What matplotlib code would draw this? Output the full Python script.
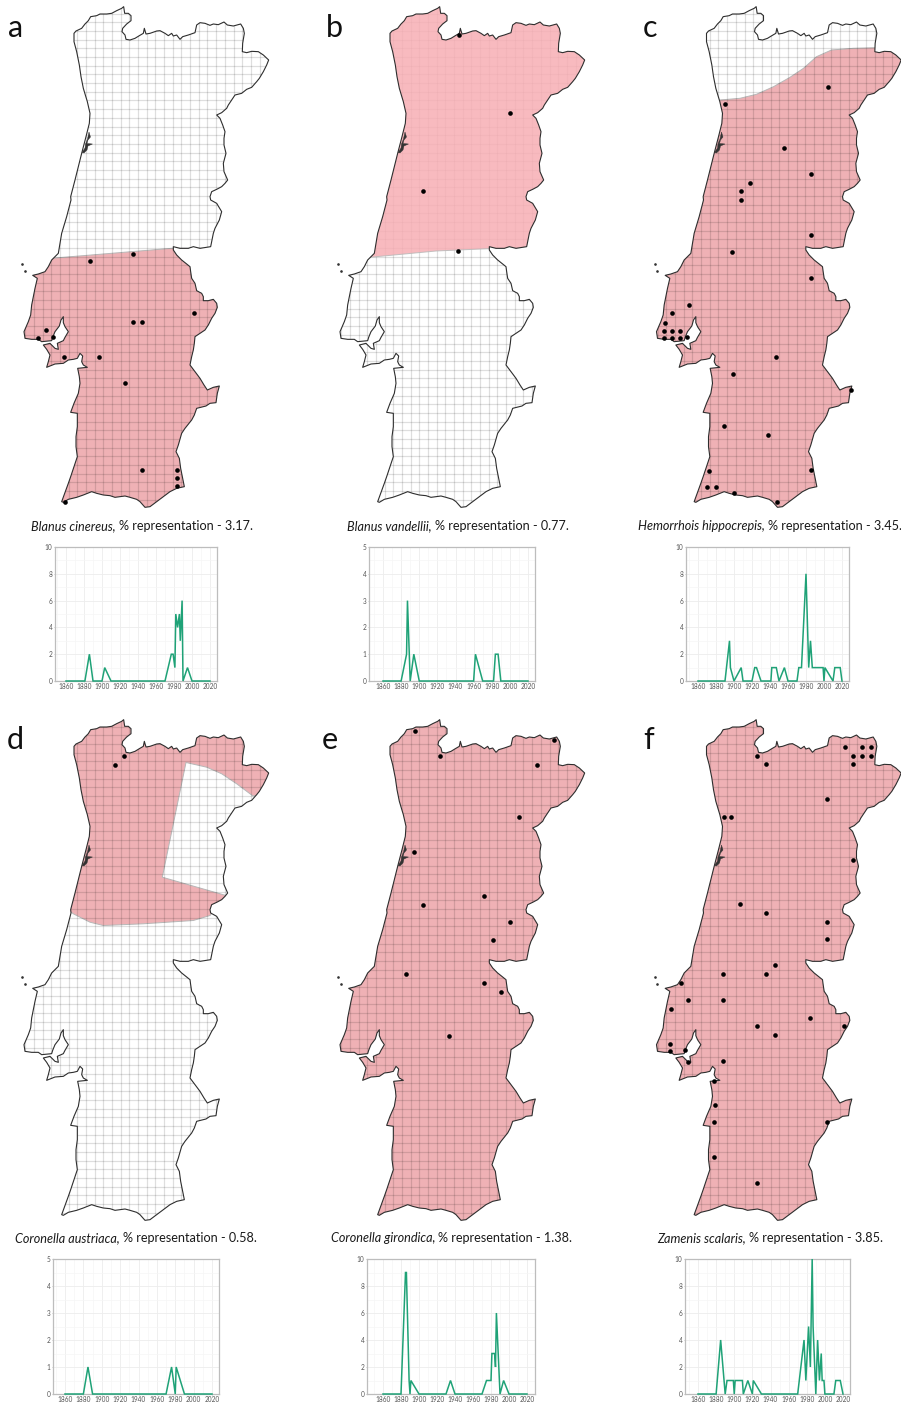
import numpy as np
import matplotlib
matplotlib.use("Agg")
import matplotlib.pyplot as plt
from matplotlib.patches import Polygon
from matplotlib.collections import LineCollection

W, H = 901, 1402

# country outline traced in three stretches, at 3x map scale (1 map unit is 1 px of the reference)
outline_north = [(222,100),(228,93),(245,85),(255,72),(265,62),(272,50),(290,47),(300,42),(320,42),(335,40),(350,32),(365,25),
                 (371,20),(374,40),(385,40),(393,47),(393,62),(380,72),(368,85),(366,95),(375,105),(378,118),(390,120),(405,115),
                 (418,107),(430,100),(433,85),(438,102),(450,100),(470,93),(480,92),(495,100),(505,107),(515,100),(520,108),
                 (530,105),(540,118),(548,110),(565,105),(585,98),(590,75),(600,68),(615,70),(630,76),(640,72),(655,74),(672,66),
                 (682,75),(700,78),(722,72),(730,85),(733,100),(728,130),(727,155),(740,158),(755,154),(775,155),(790,165),
                 (806,180),(800,195),(790,215),(778,235),(770,245),(755,262),(740,268),(725,280),(705,285),(695,300),(685,315),
                 (680,325),(665,338),(650,345),(660,355),(668,375),(675,395),(672,415),(672,435),(678,460),(670,490),(672,515),
                 (683,540),(675,550),(665,560),(650,568),(635,575),(630,590),(632,600),(650,610),(665,635),(658,660),(645,685),
                 (640,700),(635,725),(632,740),(600,745),(580,740),(565,745),(540,745),(520,740)]
outline_south = [(520,0),(530,15),(545,30),(560,42),(570,50),(572,65),(575,85),(585,100),(590,122),(605,130),(610,140),(610,152),
                 (625,152),(640,148),(650,160),(652,172),(645,190),(635,205),(625,225),(615,240),(600,250),(585,260),(583,280),
                 (580,300),(575,320),(570,345),(585,365),(600,385),(612,405),(622,420),(640,412),(658,408),(652,430),(648,458),
                 (630,460),(618,468),(590,475),(583,495),(575,510),(555,535),(545,550),(535,585),(528,605),(538,625),(542,655),
                 (548,685),(553,710),(530,715),(510,725),(490,740),(470,755),(450,770),(435,772),(420,755),(410,748),(390,742),
                 (375,738),(345,742),(330,737),(310,735),(290,730),(275,725),(250,735),(230,742),(205,748),(190,757),(185,755),
                 (205,700),(212,680),(222,650),(232,620),(228,590),(228,560),(232,530),(232,490),(212,487),(222,460),(235,430),
                 (240,400),(238,380),(233,355),(262,352),(250,345),(245,335),(248,318),(240,310),(232,325),(220,328),(205,330),
                 (190,340),(165,342),(140,352),(145,335),(150,315),(140,298),(130,285),(150,280),(165,295),(175,298),(172,280),
                 (190,272),(195,262),(205,245),(195,230),(190,218),(190,200),(183,210),(178,228),(165,245),(158,262),(155,272),
                 (125,275),(115,268),(95,268),(75,265),(72,245),(85,215),(92,195),(95,165),(100,140),(105,115),(112,85),(98,76),
                 (115,72),(135,65),(145,50),(155,30),(165,20),(175,10)]
outline_west = [(185,700),(200,650),(213,600),(212,590),(225,540),(245,460),(258,410),(268,370),(270,340),(262,305),(250,265),
                (243,230),(238,195),(230,155),(222,125)]
lagoon = [(89,132),(90.5,137),(88,140),(87,143.5),(92.5,144),(88,146),(87,150),(84,153),(82,152.5),(85,148),(85.5,144),(87.5,139)]
islands_x = [22.3, 24.7]
islands_y = [264.3, 270.7]

outline = np.vstack([np.array(outline_north) / 3,
                     np.array(outline_south) / 3 + [0, 250],
                     np.array(outline_west) / 3])

# modelled range of each species
range_a = [(0,259),(55,258),(172,248.3),(300,248.3),(300,515),(0,515)]
range_b = [(0,0),(300,0),(300,248),(176,248.5),(120,251),(57,257),(0,257)]
range_c = [(0,100),(87.5,100),(107.5,98.3),(124,94.3),(141,86.7),(157.5,77.3),(171,68.3),(184,56.7),(199,50),(221,48.3),
           (242.5,47.7),(300,47.7),(300,515),(0,515)]
range_d = [(0,0),(300,0),(300,82.8),(252.7,82.8),(236.7,70.8),(221.7,60.8),(206.7,54.2),(186,49.5),(162.3,164.2),(226,182.5),
           (210,202.5),(193.3,207.5),(143.3,210.8),(103.3,212.5),(90,209.2),(73.3,200.8),(68.3,196.8),(0,196.8)]
range_all = [(0,0),(300,0),(300,515),(0,515)]

# records on the map
dots_a_x = [90,133.3,194.3,133.3,142,46.3,37.7,52.7,63.7,98.7,124.7,142,177,177,176.7,65.3]
dots_a_y = [261,254.3,313,321.7,321.7,330.3,337.7,337,356.7,356.7,382.7,469.7,469.7,478.3,485.7,502]
dots_b_x = [143,194,107,142]
dots_b_y = [35,113,191,251]
dots_c_x = [92.2,195.5,151.8,178.2,117.2,108.5,108.5,178.2,99.8,178.5,56.5,39.2,32.5,31.2,39.2,47.8,31.2,39.2,47.8,54.5,143.8,
            100.2,218.5,91.8,135.2,178.8,76.5,74.8,83.2,101.5,144.5]
dots_c_y = [104.3,86.7,147.7,173.7,182.7,191.3,200,234.7,252.3,278.3,304.7,313.3,322.7,330.7,330.7,330.7,338,338.3,337.7,337,
            356.7,374,390,426.3,435,469.7,470.7,487.3,487.3,493,502]
dots_d_x = [124,115.3]
dots_d_y = [43.3,52]
dots_e_x = [98.7,124.3,238.3,220.7,203,98.3,168,107,194.3,176.7,89.7,168,185.3,133.3]
dots_e_y = [18,43.3,27.3,52,104.3,139.3,183,191.7,209,226.7,261.3,270,279,322.7]
dots_f_x = [212.2,229.5,238.2,220.8,229.5,238.2,220.8,124.8,133.5,194.8,91.5,98.8,220.8,107.5,133.5,194.8,194.8,142.5,90.2,133.5,
            48.5,55.2,90.2,38.5,177.5,124.8,211.5,142.5,37.8,37.8,52.8,55.2,90.2,81.5,82.5,81.5,194.2,81.5,124.8]
dots_f_y = [34,34,34,42.7,42.7,42.7,51.3,42.7,51.3,86.3,103.7,103.7,147.3,191,199.7,208.7,226,252.3,261,261,269.7,287,287,296,
            304.7,313.3,312.7,322,330.7,338,337,348.7,348.3,368.3,392,409.3,409,444.3,470.3]

# records per year
years_a = [1860,1881,1886,1888,1890,1900,1903,1910,1970,1977,1979,1981,1982,1984,1986,1987,1989,1990,1995,2000,2020]
counts_a = [0,0,2,1,0,0,1,0,0,2,2,1,5,4,5,3,6,0,1,0,0]
years_b = [1860,1880,1886,1887,1890,1894,1900,1960,1962,1970,1982,1984,1987,1990,2020]
counts_b = [0,0,1,3,0,1,0,0,1,0,0,1,1,0,0]
years_c = [1860,1890,1895,1896,1900,1908,1910,1920,1923,1925,1930,1941,1942,1947,1950,1956,1960,1970,1972,1975,1980,1983,1985,
           1987,1999,2000,2001,2010,2012,2018,2020]
counts_c = [0,0,3,1,0,1,0,0,1,1,0,0,1,1,0,1,0,0,1,1,8,1,3,1,1,0,1,0,1,1,0]
years_d = [1860,1880,1885,1890,1970,1976,1980,1981,1990,2020]
counts_d = [0,0,1,0,0,1,0,1,0,0]
years_e = [1860,1880,1885,1886,1889,1890,1891,1900,1930,1935,1940,1970,1975,1980,1981,1984,1985,1986,1990,1994,2000,2020]
counts_e = [0,0,9,9,1,0,1,0,0,1,0,0,1,1,3,3,2,6,0,1,0,0]
years_f = [1860,1880,1885,1890,1892,1899,1900,1901,1909,1910,1915,1920,1921,1930,1970,1977,1979,1982,1984,1986,1987,1990,1992,
           1994,1996,1997,1999,2000,2010,2012,2017,2020]
counts_f = [0,0,4,0,1,1,0,1,1,0,1,0,1,0,0,4,1,5,2,10,5,0,4,1,3,1,1,0,0,1,1,0]

letters = ["a", "b", "c", "d", "e", "f"]
species = ["Blanus cinereus,", "Blanus vandellii,", "Hemorrhois hippocrepis,",
           "Coronella austriaca,", "Coronella girondica,", "Zamenis scalaris,"]
percents = ["3.17", "0.77", "3.45", "0.58", "1.38", "3.85"]

map_offsets = [(0, 0), (316, 0), (632.5, 0), (0, 713), (316, 713), (632.5, 713)]
ranges = [range_a, range_b, range_c, range_d, range_all, range_all]
dots = [(dots_a_x, dots_a_y), (dots_b_x, dots_b_y), (dots_c_x, dots_c_y),
        (dots_d_x, dots_d_y), (dots_e_x, dots_e_y), (dots_f_x, dots_f_y)]
series = [(years_a, counts_a), (years_b, counts_b), (years_c, counts_c),
          (years_d, counts_d), (years_e, counts_e), (years_f, counts_f)]
y_tops = [10, 5, 10, 5, 10, 10]
# left, right, top, bottom of each small chart in px
chart_boxes = [(55, 217, 547, 681), (369, 535, 547, 681), (686, 849, 547, 681),
               (53, 219, 1259, 1394), (367, 535, 1259, 1394), (685, 850, 1259, 1394)]
# 1860 and 2020 tick positions in px
tick_px = [(66, 210), (383, 528), (698, 842), (65, 212), (383, 527), (698, 843)]
caption_x = [31, 347, 638, 15, 331, 657]
caption_y = [526, 526, 526, 1238, 1238, 1238]
letter_x = [8, 326, 643, 7, 322, 643]
letter_y = [28, 28, 28, 740, 740, 740]

FONT = "Lato"
PINK = "#EFB1B5"
GREEN = "#1FA277"

fig = plt.figure(figsize=(W / 100, H / 100), dpi=100)


def px_axes(left, right, top, bottom):
    return fig.add_axes([left / W, 1 - bottom / H, (right - left) / W, (bottom - top) / H])


def draw_map(ax, poly, xs, ys, pale):
    ax.set_xlim(0, 290)
    ax.set_ylim(520, 0)
    ax.axis("off")
    land = Polygon(outline, closed=True, fc="white", ec="none", zorder=1)
    ax.add_patch(land)

    # regular survey grid
    gx = np.arange(25.2, 280, 8.68)
    gy = np.arange(5.0, 515, 8.68)
    segs = [[(x, 0), (x, 520)] for x in gx] + [[(0, y), (290, y)] for y in gy]
    grid = LineCollection(segs, colors="black", linewidths=0.9, alpha=0.13, zorder=3)
    ax.add_collection(grid)
    grid.set_clip_path(land)

    fill = Polygon(poly, closed=True, fc="#F7AEB4" if pale else PINK, ec="#B8B8B8", lw=0.7,
                   alpha=0.85 if pale else 1, zorder=4 if pale else 2)
    ax.add_patch(fill)
    fill.set_clip_path(land)

    ax.add_patch(Polygon(outline, closed=True, fill=False, ec="#2E2E2E", lw=0.8, joinstyle="round", zorder=5))
    ax.add_patch(Polygon(lagoon, closed=True, fc="#333333", ec="#333333", lw=0.3, zorder=5))
    ax.scatter(islands_x, islands_y, s=0.8, color="#333333", zorder=5, clip_on=False)
    ax.scatter(xs, ys, s=11, color="black", linewidths=0, zorder=6, clip_on=False)


def draw_chart(ax, years, counts, top, tp):
    box_l, box_r = ax.get_position().x0 * W, ax.get_position().x1 * W
    per_year = (tp[1] - tp[0]) / 160
    ax.set_xlim(1860 - (tp[0] - box_l) / per_year, 2020 + (box_r - tp[1]) / per_year)
    ax.set_ylim(0, top)
    ax.plot(years, counts, color=GREEN, lw=1.1, solid_joinstyle="miter", zorder=3, clip_on=False)
    ax.set_xticks(np.arange(1860, 2021, 20))
    ax.set_xticks(np.arange(1850, 2021, 20), minor=True)
    step = 2 if top == 10 else 1
    ax.set_yticks(np.arange(0, top + 1, step))
    ax.set_yticks(np.arange(step / 2, top, step), minor=True)
    ax.grid(which="major", color="#EDEDED", lw=0.6)
    ax.grid(which="minor", color="#F6F6F6", lw=0.5)
    ax.set_axisbelow(True)
    ax.tick_params(which="major", labelsize=4.7, length=1, width=0.4, color="#999999", labelcolor="#555555", pad=0.8)
    ax.tick_params(which="minor", length=0)
    for lab in ax.get_xticklabels() + ax.get_yticklabels():
        lab.set_family(FONT)
    for s in ax.spines.values():
        s.set_color("#BDBDBD")
        s.set_linewidth(0.9)


for i in range(6):
    dx, dy = map_offsets[i]
    ax = px_axes(dx, dx + 290, dy, dy + 520)
    draw_map(ax, ranges[i], dots[i][0], dots[i][1], pale=(i == 1))

    left, right, top, bottom = chart_boxes[i]
    draw_chart(px_axes(left, right, top, bottom), series[i][0], series[i][1], y_tops[i], tick_px[i])

    fig.text(letter_x[i] / W, 1 - letter_y[i] / H, letters[i], fontsize=22, family=FONT, va="center", color="#111111")

    # italic species name, then the plain remainder right after it
    renderer = fig.canvas.get_renderer()
    name = fig.text(caption_x[i] / W, 1 - caption_y[i] / H, species[i], fontsize=9.1, family=FONT, style="italic",
                    va="center", color="#1A1A1A")
    end = name.get_window_extent(renderer).x1
    fig.text((end + 3) / W, 1 - caption_y[i] / H, "% representation - " + percents[i] + ".", fontsize=9.1, family=FONT,
             va="center", color="#1A1A1A")

fig.savefig("out.png", dpi=100)
